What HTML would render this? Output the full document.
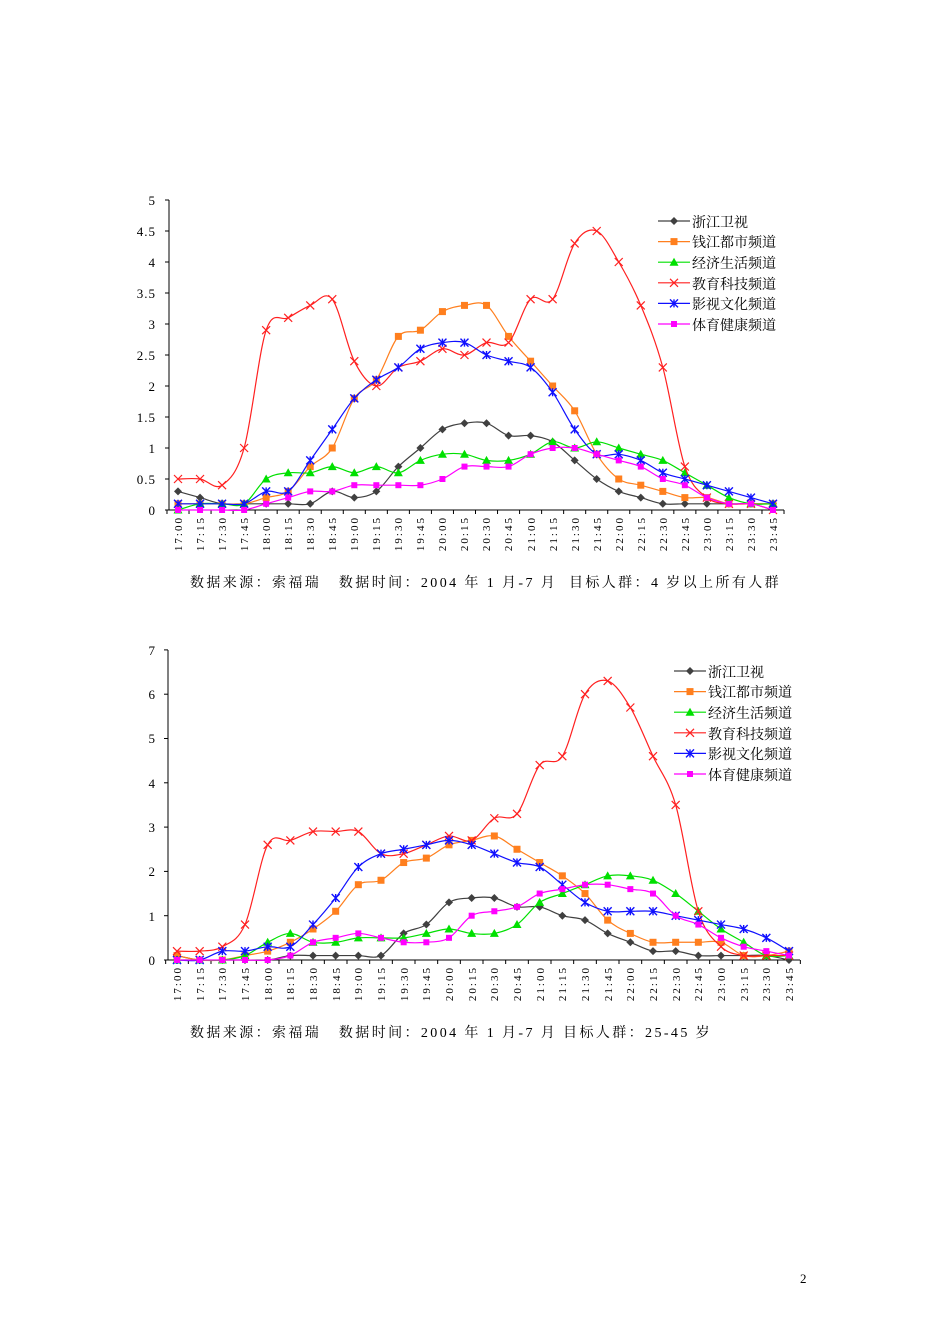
<!DOCTYPE html>
<html><head><meta charset="utf-8"><style>
body{margin:0;background:#fff;width:950px;height:1344px;overflow:hidden;font-family:"Liberation Serif","Noto Serif CJK SC",serif}
svg{position:absolute;left:0;top:0}
text{font-family:"Liberation Serif","Noto Serif CJK SC",serif;fill:#000}
.yt{font-size:13px;text-anchor:end;letter-spacing:1px}
.xt{font-size:11px;text-anchor:end;letter-spacing:2px}
.lg{font-size:14px;font-family:"Liberation Sans","Noto Sans CJK SC",sans-serif}
.cap{font-size:14px;letter-spacing:2.4px;white-space:pre}
</style></head><body>
<svg id="s" width="950" height="1344" xmlns="http://www.w3.org/2000/svg">
<line x1="169" y1="200" x2="169" y2="510" stroke="#000"/>
<line x1="169" y1="510" x2="784" y2="510" stroke="#000"/>
<g class="yt">
<text x="156" y="515">0</text><text x="156" y="484">0.5</text><text x="156" y="453">1</text><text x="156" y="422">1.5</text><text x="156" y="391">2</text><text x="156" y="360">2.5</text><text x="156" y="329">3</text><text x="156" y="298">3.5</text><text x="156" y="267">4</text><text x="156" y="236">4.5</text><text x="156" y="205">5</text>
</g>
<g class="xt">
<text transform="translate(182,516) rotate(-90)">17:00</text><text transform="translate(204,516) rotate(-90)">17:15</text><text transform="translate(226,516) rotate(-90)">17:30</text><text transform="translate(248,516) rotate(-90)">17:45</text><text transform="translate(270,516) rotate(-90)">18:00</text><text transform="translate(292,516) rotate(-90)">18:15</text><text transform="translate(314,516) rotate(-90)">18:30</text><text transform="translate(336,516) rotate(-90)">18:45</text><text transform="translate(358,516) rotate(-90)">19:00</text><text transform="translate(380,516) rotate(-90)">19:15</text><text transform="translate(402,516) rotate(-90)">19:30</text><text transform="translate(424,516) rotate(-90)">19:45</text><text transform="translate(446,516) rotate(-90)">20:00</text><text transform="translate(468,516) rotate(-90)">20:15</text><text transform="translate(490,516) rotate(-90)">20:30</text><text transform="translate(512,516) rotate(-90)">20:45</text><text transform="translate(535,516) rotate(-90)">21:00</text><text transform="translate(557,516) rotate(-90)">21:15</text><text transform="translate(579,516) rotate(-90)">21:30</text><text transform="translate(601,516) rotate(-90)">21:45</text><text transform="translate(623,516) rotate(-90)">22:00</text><text transform="translate(645,516) rotate(-90)">22:15</text><text transform="translate(667,516) rotate(-90)">22:30</text><text transform="translate(689,516) rotate(-90)">22:45</text><text transform="translate(711,516) rotate(-90)">23:00</text><text transform="translate(733,516) rotate(-90)">23:15</text><text transform="translate(755,516) rotate(-90)">23:30</text><text transform="translate(777,516) rotate(-90)">23:45</text>
</g>
<text class="cap" x="190" y="587">数据来源：索福瑞   数据时间：2004 年 1 月-7 月  目标人群：4 岁以上所有人群</text>
<g class="lg">
<text x="692" y="227">浙江卫视</text><text x="692" y="247">钱江都市频道</text><text x="692" y="268">经济生活频道</text><text x="692" y="289">教育科技频道</text><text x="692" y="309">影视文化频道</text><text x="692" y="330">体育健康频道</text>
</g>
<line x1="168" y1="650" x2="168" y2="960" stroke="#000"/>
<line x1="168" y1="960" x2="800" y2="960" stroke="#000"/>
<g class="yt">
<text x="156" y="965">0</text><text x="156" y="921">1</text><text x="156" y="876">2</text><text x="156" y="832">3</text><text x="156" y="788">4</text><text x="156" y="743">5</text><text x="156" y="699">6</text><text x="156" y="655">7</text>
</g>
<g class="xt">
<text transform="translate(181,966) rotate(-90)">17:00</text><text transform="translate(204,966) rotate(-90)">17:15</text><text transform="translate(226,966) rotate(-90)">17:30</text><text transform="translate(249,966) rotate(-90)">17:45</text><text transform="translate(272,966) rotate(-90)">18:00</text><text transform="translate(294,966) rotate(-90)">18:15</text><text transform="translate(317,966) rotate(-90)">18:30</text><text transform="translate(340,966) rotate(-90)">18:45</text><text transform="translate(362,966) rotate(-90)">19:00</text><text transform="translate(385,966) rotate(-90)">19:15</text><text transform="translate(408,966) rotate(-90)">19:30</text><text transform="translate(430,966) rotate(-90)">19:45</text><text transform="translate(453,966) rotate(-90)">20:00</text><text transform="translate(476,966) rotate(-90)">20:15</text><text transform="translate(498,966) rotate(-90)">20:30</text><text transform="translate(521,966) rotate(-90)">20:45</text><text transform="translate(544,966) rotate(-90)">21:00</text><text transform="translate(566,966) rotate(-90)">21:15</text><text transform="translate(589,966) rotate(-90)">21:30</text><text transform="translate(612,966) rotate(-90)">21:45</text><text transform="translate(634,966) rotate(-90)">22:00</text><text transform="translate(657,966) rotate(-90)">22:15</text><text transform="translate(680,966) rotate(-90)">22:30</text><text transform="translate(702,966) rotate(-90)">22:45</text><text transform="translate(725,966) rotate(-90)">23:00</text><text transform="translate(748,966) rotate(-90)">23:15</text><text transform="translate(770,966) rotate(-90)">23:30</text><text transform="translate(793,966) rotate(-90)">23:45</text>
</g>
<text class="cap" x="190" y="1037">数据来源：索福瑞   数据时间：2004 年 1 月-7 月 目标人群：25-45 岁</text>
<g class="lg">
<text x="708" y="677">浙江卫视</text><text x="708" y="697">钱江都市频道</text><text x="708" y="718">经济生活频道</text><text x="708" y="739">教育科技频道</text><text x="708" y="759">影视文化频道</text><text x="708" y="780">体育健康频道</text>
</g>
<text x="800" y="1283" style="font-size:13px">2</text>
<g id="plot"></g>
</svg>
<script>
var NS="http://www.w3.org/2000/svg",P=document.getElementById("plot");
function el(t,a){var e=document.createElementNS(NS,t);for(var k in a)e.setAttribute(k,a[k]);P.appendChild(e);return e;}
var cols=["#404040","#ff7f1e","#00e000","#ff2020","#1010ff","#ff00ff"];
var mk=["d","s","t","x","a","c"];
function marker(t,x,y,c){
 if(t=="d")el("polygon",{points:(x)+","+(y-4)+" "+(x+4)+","+y+" "+x+","+(y+4)+" "+(x-4)+","+y,fill:c});
 else if(t=="s")el("rect",{x:x-3.5,y:y-3.5,width:7,height:7,fill:c});
 else if(t=="t")el("polygon",{points:x+","+(y-4.5)+" "+(x+4.5)+","+(y+3.5)+" "+(x-4.5)+","+(y+3.5),fill:c});
 else if(t=="x"){el("path",{d:"M"+(x-4)+" "+(y-4)+"L"+(x+4)+" "+(y+4)+"M"+(x+4)+" "+(y-4)+"L"+(x-4)+" "+(y+4),stroke:c,"stroke-width":1.2,fill:"none"});}
 else if(t=="a"){el("path",{d:"M"+(x-4)+" "+(y-4)+"L"+(x+4)+" "+(y+4)+"M"+(x+4)+" "+(y-4)+"L"+(x-4)+" "+(y+4)+"M"+x+" "+(y-4)+"L"+x+" "+(y+4),stroke:c,"stroke-width":1.4,fill:"none"});}
 else el("rect",{x:x-3,y:y-3,width:6,height:6,fill:c});
}
function smooth(p){var d="M"+p[0][0]+" "+p[0][1];for(var i=0;i<p.length-1;i++){var a=p[i-1]||p[i],b=p[i],c=p[i+1],e=p[i+2]||c;
 d+="C"+(b[0]+(c[0]-a[0])/6)+" "+(b[1]+(c[1]-a[1])/6)+" "+(c[0]-(e[0]-b[0])/6)+" "+(c[1]-(e[1]-b[1])/6)+" "+c[0]+" "+c[1];}return d;}
function chart(ax,x0,dx,y0,sc,step,n,data,lx,ly){
 for(var v=0;v<=n;v++){var yy=y0-v*sc*step;el("line",{x1:ax-4,x2:ax,y1:yy,y2:yy,stroke:"#000"});}
 for(var i=0;i<=28;i++){var xx=x0-dx/2+i*dx;el("line",{x1:xx,x2:xx,y1:y0,y2:y0+4,stroke:"#000"});}
 data.forEach(function(s,k){var pts=s.map(function(v,i){return[x0+i*dx,y0-v*sc];});
  el("path",{d:smooth(pts),stroke:cols[k],fill:"none","stroke-width":1.2});
  pts.forEach(function(p){marker(mk[k],p[0],p[1],cols[k]);});
  var yy=ly+k*20.6;el("line",{x1:lx,x2:lx+32,y1:yy,y2:yy,stroke:cols[k],"stroke-width":1.2});marker(mk[k],lx+16,yy,cols[k]);
 });
}
chart(169,178,22.037,510,62,0.5,10,[
[.3,.2,.1,.1,.1,.1,.1,.3,.2,.3,.7,1.0,1.3,1.4,1.4,1.2,1.2,1.1,.8,.5,.3,.2,.1,.1,.1,.1,.1,.1],
[.1,.1,.1,.1,.2,.3,.7,1.0,1.8,2.1,2.8,2.9,3.2,3.3,3.3,2.8,2.4,2.0,1.6,.9,.5,.4,.3,.2,.2,.1,.1,.1],
[0,.1,.1,.1,.5,.6,.6,.7,.6,.7,.6,.8,.9,.9,.8,.8,.9,1.1,1.0,1.1,1.0,.9,.8,.6,.4,.2,.1,.1],
[.5,.5,.4,1.0,2.9,3.1,3.3,3.4,2.4,2.0,2.3,2.4,2.6,2.5,2.7,2.7,3.4,3.4,4.3,4.5,4.0,3.3,2.3,.7,.2,.1,.1,0],
[.1,.1,.1,.1,.3,.3,.8,1.3,1.8,2.1,2.3,2.6,2.7,2.7,2.5,2.4,2.3,1.9,1.3,.9,.9,.8,.6,.5,.4,.3,.2,.1],
[0,0,0,0,.1,.2,.3,.3,.4,.4,.4,.4,.5,.7,.7,.7,.9,1.0,1.0,.9,.8,.7,.5,.4,.2,.1,.1,0]],658,221);
chart(168,177,22.667,960,44.3,1,7,[
[.1,0,0,0,0,.1,.1,.1,.1,.1,.6,.8,1.3,1.4,1.4,1.2,1.2,1.0,.9,.6,.4,.2,.2,.1,.1,.1,.1,0],
[.1,0,0,.1,.2,.4,.7,1.1,1.7,1.8,2.2,2.3,2.6,2.7,2.8,2.5,2.2,1.9,1.5,.9,.6,.4,.4,.4,.4,.1,.1,.2],
[0,0,0,.1,.4,.6,.4,.4,.5,.5,.5,.6,.7,.6,.6,.8,1.3,1.5,1.7,1.9,1.9,1.8,1.5,1.1,.7,.4,.1,.1],
[.2,.2,.3,.8,2.6,2.7,2.9,2.9,2.9,2.4,2.4,2.6,2.8,2.7,3.2,3.3,4.4,4.6,6.0,6.3,5.7,4.6,3.5,1.1,.3,.1,.1,.1],
[0,0,.2,.2,.3,.3,.8,1.4,2.1,2.4,2.5,2.6,2.7,2.6,2.4,2.2,2.1,1.7,1.3,1.1,1.1,1.1,1.0,.9,.8,.7,.5,.2],
[0,0,0,0,0,.1,.4,.5,.6,.5,.4,.4,.5,1.0,1.1,1.2,1.5,1.6,1.7,1.7,1.6,1.5,1.0,.8,.5,.3,.2,.1]],674,671);
</script>
</body></html>
